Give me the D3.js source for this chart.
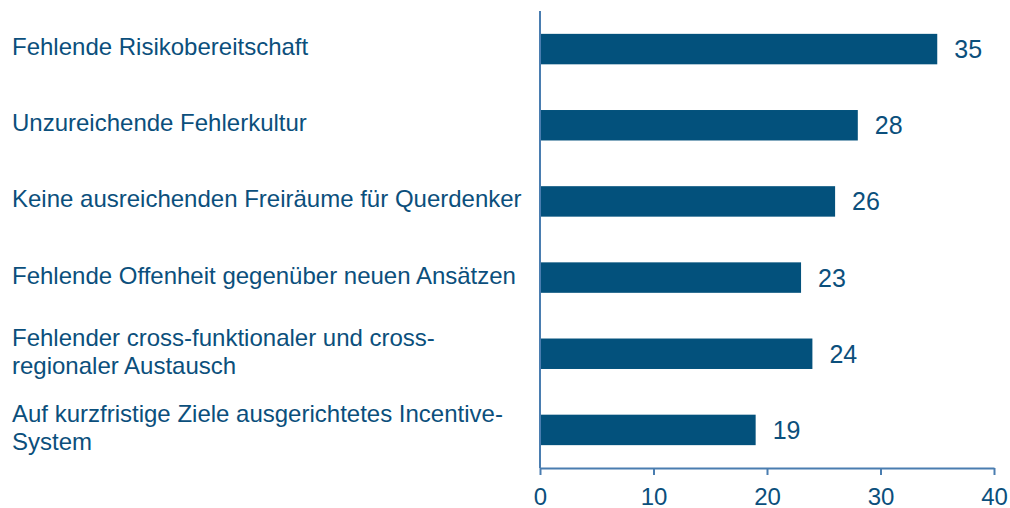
<!DOCTYPE html>
<html>
<head>
<meta charset="utf-8">
<script src="https://cdn.jsdelivr.net/npm/d3@7"></script>
<style>
  body { margin: 0; background: #fff; }
  text { font-family: "Liberation Sans", Arial, sans-serif; }
</style>
</head>
<body>
<svg id="chart" width="1010" height="508"></svg>
<script>
// categorieen en waarden
const categories = [
  ["Fehlende Risikobereitschaft"],
  ["Unzureichende Fehlerkultur"],
  ["Keine ausreichenden Freiräume für Querdenker"],
  ["Fehlende Offenheit gegenüber neuen Ansätzen"],
  ["Fehlender cross-funktionaler und cross-", "regionaler Austausch"],
  ["Auf kurzfristige Ziele ausgerichtetes Incentive-", "System"]
];
const values = [35, 28, 26, 23, 24, 19];
const xTicks = [0, 10, 20, 30, 40];

const barColor = '#03517c';
const textColor = '#0b4f7c';
const axisColor = '#4a7db0';

const svg = d3.select('#chart');
const margin = { left: 540, right: 16, top: 11, bottom: 40 };
const width = 1010, height = 508;

const x = d3.scaleLinear().domain([0, 40]).range([margin.left, 994]);
const y = d3.scaleBand()
  .domain(d3.range(categories.length))
  .range([margin.top, height - margin.bottom])
  .paddingInner(0.6)
  .paddingOuter(0.3);

// balken
svg.append('g')
  .selectAll('rect')
  .data(values)
  .join('rect')
  .attr('x', x(0))
  .attr('y', (d, i) => y(i))
  .attr('width', d => x(d) - x(0))
  .attr('height', y.bandwidth())
  .attr('fill', barColor);

// waardelabels
svg.append('g')
  .selectAll('text')
  .data(values)
  .join('text')
  .attr('x', d => x(d) + 17)
  .attr('y', (d, i) => y(i) + y.bandwidth() / 2 + 9)
  .attr('font-size', 25)
  .attr('fill', textColor)
  .text(d => d);

// categorielabels
const labels = svg.append('g')
  .selectAll('text')
  .data(categories)
  .join('text')
  .attr('font-size', 24)
  .attr('fill', textColor)
  .attr('transform', (d, i) => {
    const cy = y(i) + y.bandwidth() / 2;
    const offset = (d.length - 1) * 28 / 2;
    return `translate(12,${cy - offset + 6})`;
  });
labels.selectAll('tspan')
  .data(d => d)
  .join('tspan')
  .attr('x', 0)
  .attr('dy', (d, j) => j === 0 ? 0 : 28)
  .text(d => d);

// x-as
const xAxis = svg.append('g')
  .attr('transform', `translate(0,${height - margin.bottom})`)
  .call(d3.axisBottom(x).tickValues(xTicks).tickSize(7).tickSizeOuter(0).tickPadding(13));
xAxis.select('.domain').attr('stroke', axisColor).attr('stroke-width', 2);
xAxis.selectAll('.tick line').attr('stroke', axisColor).attr('stroke-width', 2);
xAxis.selectAll('.tick text')
  .attr('font-size', 24)
  .attr('fill', textColor)
  .style('font-family', '"Liberation Sans", Arial, sans-serif');

// y-as lijn
svg.append('line')
  .attr('x1', x(0)).attr('x2', x(0))
  .attr('y1', margin.top).attr('y2', height - margin.bottom)
  .attr('stroke', axisColor)
  .attr('stroke-width', 2);
</script>
</body>
</html>
